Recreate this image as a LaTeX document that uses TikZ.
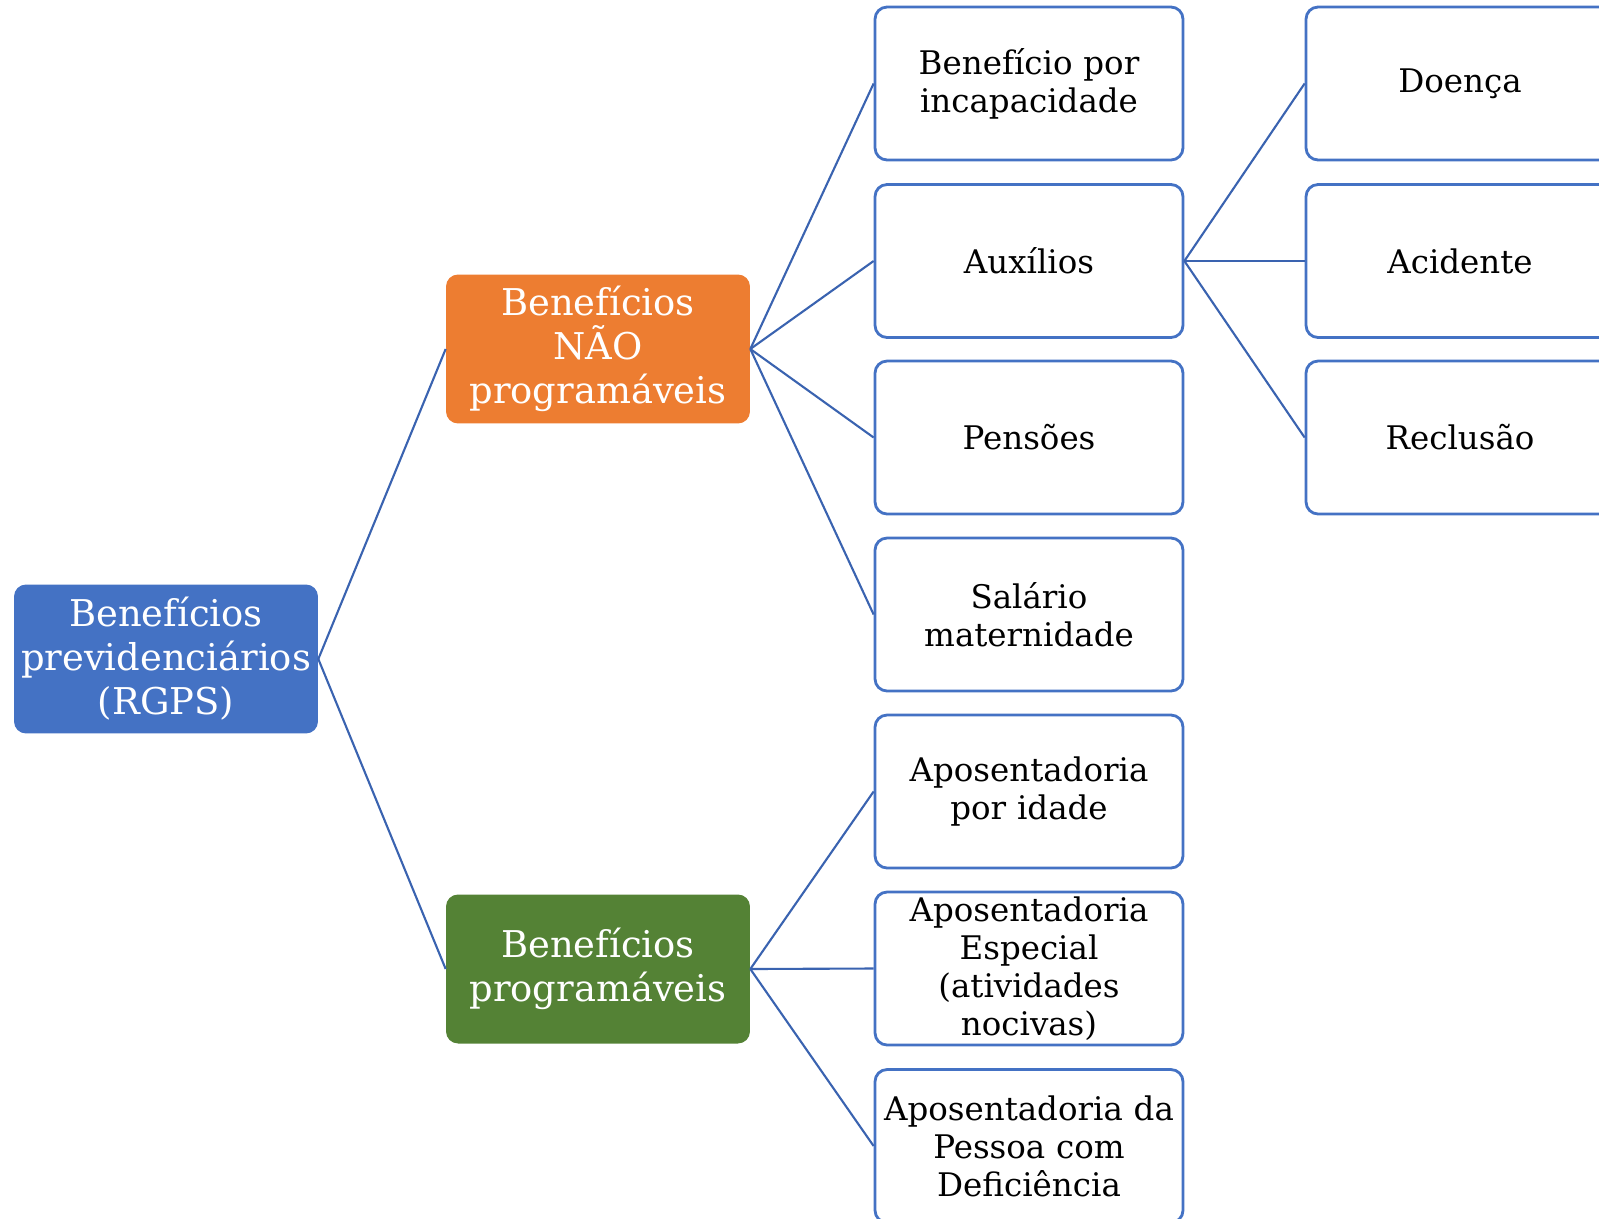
\documentclass[tikz,border=0pt]{standalone}
\usepackage{fontspec}
\setmainfont{DejaVu Serif}
\usepackage{tikz}
\usetikzlibrary{positioning}
\definecolor{rgpsblue}{HTML}{4472C4}
\definecolor{rgpsorange}{HTML}{ED7D31}
\definecolor{rgpsgreen}{HTML}{548235}
\definecolor{linkblue}{HTML}{3A63B0}

\begin{document}
\begin{tikzpicture}[x=0.02cm, y=-0.02cm,
    mainbox/.style={rectangle, rounded corners=0.24cm, minimum width=6.08cm, minimum height=2.98cm,
        text width=5.9cm, align=center, inner sep=0pt, text=white, font=\fontsize{21}{25}\selectfont},
    leaf/.style={rectangle, rounded corners=0.24cm, draw=rgpsblue, line width=1.6pt, fill=white,
        minimum width=6.16cm, minimum height=3.06cm, text width=6cm, align=center, inner sep=0pt,
        font=\fontsize{18.5}{21.6}\selectfont},
    link/.style={draw=linkblue, line width=1.2pt}]
    \clip (0,0) rectangle (1599,1218);
    \useasboundingbox (0,0) rectangle (1599,1218);

    % Root and the two groups
    \node[mainbox, fill=rgpsblue] (root) at (166,659) {Benefícios\\previdenciários\\(RGPS)};
    \node[mainbox, fill=rgpsorange] (nao) at (598,349) {Benefícios\\NÃO\\programáveis};
    \node[mainbox, fill=rgpsgreen] (prog) at (598,969) {Benefícios\\programáveis};

    % NAO programaveis
    \foreach \i/\y/\t in {1/83.5/{Benefício por\\incapacidade}, 2/261/Auxílios, 3/437.5/Pensões,
        4/614.5/{Salário\\maternidade}} {
        \node[leaf] (n\i) at (1029,\y) {\t};
        \draw[link] (nao.east) -- (n\i.west);
    }

    % Programaveis
    \foreach \i/\y/\t in {1/791.5/{Aposentadoria\\por idade}, 2/968.5/{Aposentadoria\\Especial\\(atividades\\nocivas)},
        3/1146/{Aposentadoria da\\Pessoa com\\Deficiência}} {
        \node[leaf] (p\i) at (1029,\y) {\t};
        \draw[link] (prog.east) -- (p\i.west);
    }

    % Auxilios
    \foreach \i/\y/\t in {1/83.5/Doença, 2/261/Acidente, 3/437.5/Reclusão} {
        \node[leaf] (a\i) at (1460,\y) {\t};
        \draw[link] (n2.east) -- (a\i.west);
    }

    \draw[link] (root.east) -- (nao.west);
    \draw[link] (root.east) -- (prog.west);

\end{tikzpicture}
\end{document}
